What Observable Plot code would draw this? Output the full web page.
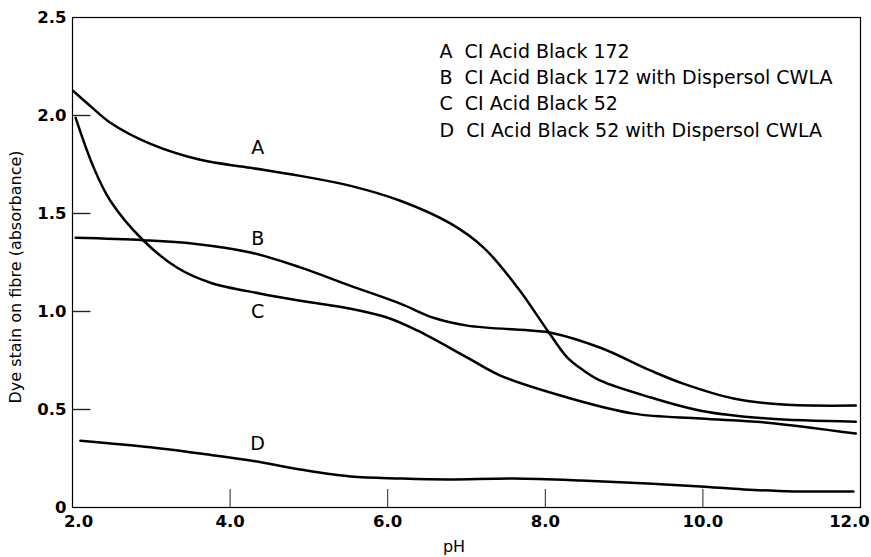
<!DOCTYPE html>
<html><head><meta charset="utf-8">
<script src="https://cdn.jsdelivr.net/npm/d3@7"></script>
<script src="https://cdn.jsdelivr.net/npm/@observablehq/plot@0.6"></script>
<style>body{margin:0;background:#fff} svg text{white-space:pre}</style>
</head><body><div id="chart"></div>
<script>
// Curve A: CI Acid Black 172
const phA  = [2.01, 2.25, 2.48, 2.99, 3.62, 4.26, 4.89, 5.53, 6.16, 6.80, 7.22, 7.65, 8.05, 8.28, 8.49, 8.70, 9.34, 9.97, 10.82, 11.94];
const valA = [2.125, 2.04, 1.963, 1.855, 1.774, 1.733, 1.692, 1.641, 1.565, 1.448, 1.325, 1.121, 0.890, 0.765, 0.698, 0.647, 0.561, 0.494, 0.454, 0.438];
// Curve B: CI Acid Black 172 with Dispersol CWLA
const phB  = [2.04, 2.90, 3.54, 4.26, 4.89, 5.53, 6.16, 6.58, 7.01, 7.85, 8.07, 8.70, 9.34, 9.75, 10.39, 11.02, 11.94];
const valB = [1.376, 1.364, 1.346, 1.301, 1.225, 1.131, 1.040, 0.968, 0.928, 0.902, 0.892, 0.815, 0.698, 0.632, 0.556, 0.525, 0.520];
// Curve C: CI Acid Black 52
const phC  = [2.04, 2.27, 2.48, 2.89, 3.33, 3.75, 4.39, 4.89, 5.53, 6.00, 6.38, 7.01, 7.43, 8.28, 9.12, 9.97, 10.82, 11.94];
const valC = [1.988, 1.733, 1.565, 1.366, 1.223, 1.147, 1.091, 1.055, 1.014, 0.968, 0.902, 0.765, 0.673, 0.561, 0.479, 0.454, 0.433, 0.377];
// Curve D: CI Acid Black 52 with Dispersol CWLA
const phD  = [2.10, 2.99, 3.62, 4.26, 4.89, 5.53, 6.16, 6.76, 7.60, 8.45, 9.30, 9.97, 10.52, 11.15, 11.91];
const valD = [0.341, 0.307, 0.275, 0.240, 0.194, 0.158, 0.148, 0.143, 0.148, 0.138, 0.122, 0.107, 0.092, 0.082, 0.082];

const curveKeys = ["A", "B", "C", "D"];
const curveNames = ["CI Acid Black 172", "CI Acid Black 172 with Dispersol CWLA", "CI Acid Black 52", "CI Acid Black 52 with Dispersol CWLA"];
// in-plot curve label anchors (pH, absorbance)
const labelPh = [4.35, 4.35, 4.35, 4.35];
const labelVal = [1.836, 1.370, 1.000, 0.325];

const xTicks = [2, 4, 6, 8, 10, 12];
const xTickLabels = ["2.0", "4.0", "6.0", "8.0", "10.0", "12.0"];
const yTicks = [0, 0.5, 1.0, 1.5, 2.0, 2.5];
const yTickLabels = ["0", "0.5", "1.0", "1.5", "2.0", "2.5"];
const yInnerTicks = [0.5, 1.0, 1.5, 2.0];
const xInnerTicks = [4, 6, 8, 10];
const xTitle = "pH";
const yTitle = "Dye stain on fibre (absorbance)";

const series = [[phA, valA], [phB, valB], [phC, valC], [phD, valD]];
const rows = series.flatMap(([xs, ys], s) => xs.map((x, i) => ({key: curveKeys[s], ph: x, v: ys[i]})));
const labels = curveKeys.map((k, i) => ({key: k, ph: labelPh[i], v: labelVal[i]}));
const legendText = curveKeys.map((k, i) => k + "\u00a0 " + curveNames[i]).join("\n");
const xFmt = d => xTickLabels[xTicks.indexOf(d)];
const yFmt = d => yTickLabels[yTicks.indexOf(d)];

const W = 871, ML = 72, MR = 11, TICK = 18;
const xDomain = [2, 12];
const tickSpan = TICK * (xDomain[1] - xDomain[0]) / (W - ML - MR);
const yTickRows = yInnerTicks.map(v => ({v}));

const chart = Plot.plot({
  width: W,
  height: 557,
  marginLeft: ML,
  marginRight: MR,
  marginTop: 17,
  marginBottom: 50,
  style: {fontFamily: "DejaVu Sans, sans-serif", color: "black", background: "white", overflow: "visible"},
  x: {domain: xDomain},
  y: {domain: [0, 2.5]},
  marks: [
    Plot.frame({stroke: "black", strokeWidth: 1.2}),
    // inward y ticks (drawn several equivalent ways on the same pixels)
    Plot.link(yTickRows, {x1: () => xDomain[0], x2: () => xDomain[0] + tickSpan, y1: "v", y2: "v", stroke: "#222", strokeWidth: 1.2}),
    Plot.ruleY(yTickRows, {y: "v", insetRight: W - ML - MR - TICK, stroke: "#222", strokeWidth: 1.2}),
    // inward x ticks
    Plot.axisX({ticks: xInnerTicks, tickSize: -TICK, tickFormat: () => "", label: null, stroke: "#222"}),
    // tick labels
    Plot.axisX({ticks: xInnerTicks, tickSize: 0, tickPadding: 8, tickFormat: xFmt, label: null, fontSize: 16.5, fontWeight: "bold"}),
    Plot.axisX({ticks: [2], tickSize: 0, tickPadding: 8, tickFormat: xFmt, label: null, fontSize: 16.5, fontWeight: "bold", dx: 6}),
    Plot.axisX({ticks: [12], tickSize: 0, tickPadding: 8, tickFormat: xFmt, label: null, fontSize: 16.5, fontWeight: "bold", dx: -11}),
    Plot.axisY({ticks: yTicks, tickSize: 0, tickPadding: 6, tickFormat: yFmt, label: null, fontSize: 16.5, fontWeight: "bold"}),
    // axis titles
    Plot.text([yTitle], {frameAnchor: "left", rotate: -90, dx: -57, dy: 14.5, fontSize: 16, lineAnchor: "middle", textAnchor: "middle", text: d => d}),
    Plot.text([xTitle], {frameAnchor: "bottom", dx: -12.5, dy: 33, lineAnchor: "top", textAnchor: "middle", fontSize: 16, text: d => d}),
    // curves
    Plot.line(rows, {x: "ph", y: "v", z: "key", stroke: "black", strokeWidth: 2.5, curve: "catmull-rom"}),
    // curve labels
    Plot.text(labels, {x: "ph", y: "v", text: "key", fontSize: 19, textAnchor: "middle"}),
    // legend
    Plot.text([legendText], {frameAnchor: "top-left", dx: 367, dy: 21.5, lineAnchor: "top", lineHeight: 1.385, textAnchor: "start", fontSize: 19, text: d => d})
  ]
});
document.getElementById("chart").appendChild(chart);
</script>
</body></html>
